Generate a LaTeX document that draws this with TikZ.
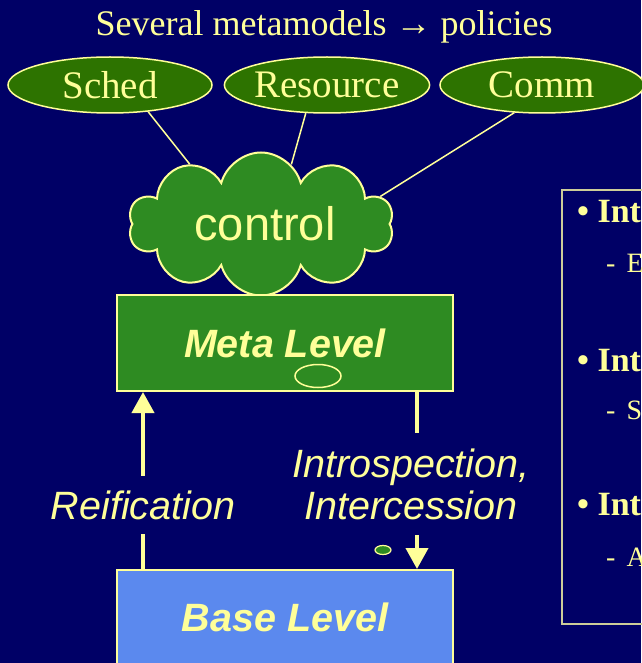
\documentclass[tikz,border=0pt]{standalone}
\usepackage{fontspec}
\setmainfont{Liberation Serif}
\setsansfont{Liberation Sans}
\usepackage{xcolor}
\usepackage{tikz}
\usetikzlibrary{positioning, shapes.geometric, shapes.symbols, arrows.meta}
\definecolor{bgnavy}{HTML}{000066}
\definecolor{pale}{HTML}{FFFF99}
\definecolor{darkgrn}{HTML}{2D7300}
\definecolor{midgrn}{HTML}{2E8B22}
\definecolor{baseblu}{HTML}{5B89EE}
\definecolor{boxline}{HTML}{CCCC99}
\tikzset{
  pol/.style={ellipse, draw=pale, line width=1.5pt, fill=darkgrn, text=pale,
              font=\fontsize{39}{39}\selectfont, minimum width=204pt, minimum height=56pt, inner sep=0pt},
  ctl/.style={cloud, cloud puffs=10, cloud ignores aspect, draw=pale, line width=2pt, fill=midgrn,
              text=pale, font=\sffamily\fontsize{47}{47}\selectfont, minimum width=265pt, minimum height=143pt},
  lvl/.style={rectangle, draw=pale, line width=2pt, minimum width=336pt, text=pale,
              font=\sffamily\bfseries\itshape\fontsize{39.5}{39.5}\selectfont},
  lbl/.style={text=pale, font=\sffamily\itshape\fontsize{39.5}{42}\selectfont, align=center, inner sep=0pt},
  wire/.style={draw=pale, line width=1.5pt},
  tr/.style={draw=pale, line width=4pt},
  trh/.style={tr, -{Triangle[length=21pt, width=22pt]}},
  blt/.style={anchor=base west, text=pale, inner sep=0pt, font=\bfseries\fontsize{34}{34}\selectfont},
  sub/.style={anchor=base west, text=pale, inner sep=0pt, font=\fontsize{28}{28}\selectfont}
}

\begin{document}
\begin{tikzpicture}[x=1pt, y=-1pt]
  \useasboundingbox (0,0) rectangle (641,663);
  \fill[bgnavy] (0,0) rectangle (641,663);
  % Policies
  \node[text=pale, font=\fontsize{36}{36}\selectfont] (ttl) at (324,27) {Several metamodels → policies};
  \node[pol] (sched) at (110,85) {Sched};
  \node[pol] (rsrc) at (327,85) {Resource};
  \node[pol] (comm) at (542,85) {Comm};
  % Levels
  \node[ctl] (ctrl) at (261,224) {\hspace{8pt}control};
  \node[lvl, fill=midgrn, minimum height=96pt] (meta) at (285,343) {Meta Level};
  \node[ellipse, draw=pale, line width=1.5pt, minimum width=46pt, minimum height=23pt, inner sep=0pt] (hole) at (318,376) {};
  \node[lvl, fill=baseblu, minimum height=94pt] (base) at (285,617) {Base Level};
  \node[ellipse, draw=pale, fill=midgrn, line width=1.2pt, minimum width=16pt, minimum height=9pt, inner sep=0pt] (spot) at (383,550) {};
  % Labels on the arrows
  \node[lbl, minimum height=58pt] (reif) at (143,505) {Reification};
  \node[lbl, minimum height=102pt] (intro) at (411,484) {Introspection,\\Intercession};
  \coordinate (ix) at (417,0);
  % Right panel
  \node[draw=boxline, line width=1.5pt, anchor=north west, minimum width=120pt, minimum height=434pt] (pane) at (561,189) {};
  \node[blt] (b1) at (577,222) {\textbullet\ Int};
  \node[sub] (s1) at (606,272) {-\hspace{11pt}E};
  \node[blt] (b2) at (577,371) {\textbullet\ Int};
  \node[sub] (s2) at (606,419) {-\hspace{11pt}S};
  \node[blt] (b3) at (577,515) {\textbullet\ Int};
  \node[sub] (s3) at (606,566) {-\hspace{11pt}A};
  % Connectors
  \draw[wire] (sched.-35) -- (ctrl.140);
  \draw[wire] (rsrc.-127) -- (ctrl.63);
  \draw[wire] (comm.-135) -- (ctrl.13);
  \draw[tr] (base.north -| reif) -- (reif.south);
  \draw[trh] (reif.north) -- (meta.south -| reif);
  \draw[tr] (meta.south -| ix) -- (intro.north -| ix);
  \draw[trh] (intro.south -| ix) -- (base.north -| ix);
\end{tikzpicture}
\end{document}
